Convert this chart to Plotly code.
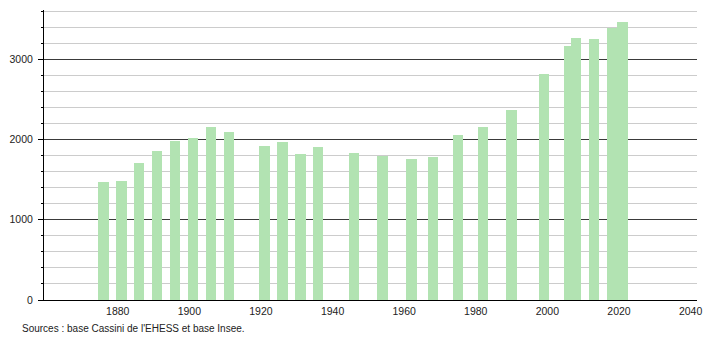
import plotly.graph_objects as go

years = [1876, 1881, 1886, 1891, 1896, 1901, 1906, 1911, 1921, 1926, 1931, 1936,
         1946, 1954, 1962, 1968, 1975, 1982, 1990, 1999, 2006, 2008, 2013, 2018, 2021]
population = [1471, 1484, 1712, 1854, 1983, 2020, 2161, 2099, 1920, 1965, 1820, 1904,
              1837, 1800, 1758, 1787, 2057, 2157, 2369, 2814, 3167, 3263, 3251, 3395, 3463]
x_ticks = [1880, 1900, 1920, 1940, 1960, 1980, 2000, 2020, 2040]
source_text = "Sources : base Cassini de l'EHESS et base Insee."

bar_color = "rgb(178,227,178)"
font = "Liberation Sans, Arial, sans-serif"

fig = go.Figure()
fig.add_trace(go.Bar(
    x=years, y=population, width=2.9,
    marker=dict(color=bar_color, line=dict(width=0)),
    hoverinfo="x+y",
))

fig.update_layout(
    width=710, height=340,
    margin=dict(l=44, r=8, t=10, b=40),
    plot_bgcolor="white", paper_bgcolor="white",
    showlegend=False,
    font=dict(family=font, size=10.5, color="#222"),
    bargap=0,
)

fig.update_xaxes(
    range=[1859.4, 2041.8],
    tickmode="array", tickvals=x_ticks, ticktext=[str(v) for v in x_ticks],
    showgrid=False, zeroline=False,
    showline=True, linecolor="#000", linewidth=1,
    ticks="", ticklabelstandoff=1,
)

fig.update_yaxes(
    range=[0, 3616],
    tickmode="linear", tick0=0, dtick=1000,
    showgrid=True, gridcolor="#3a3a3a", gridwidth=1,
    zeroline=False,
    showline=True, linecolor="#000", linewidth=1,
    ticks="outside", ticklen=5, tickcolor="#000",
    minor=dict(dtick=200, tick0=0, showgrid=True, gridcolor="#cccccc", gridwidth=1,
               ticks="outside", ticklen=2, tickcolor="#000"),
    ticklabelstandoff=3,
)

fig.add_annotation(
    text=source_text, xref="paper", yref="paper",
    x=-24/658, y=-28/290, xanchor="left", yanchor="middle",
    showarrow=False, font=dict(family=font, size=10, color="#222"),
)

fig.write_html("out.html")
